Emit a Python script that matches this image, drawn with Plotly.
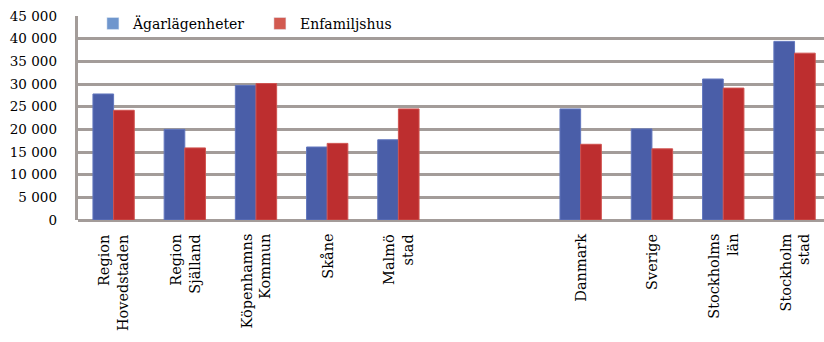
import plotly.graph_objects as go

left_cats = ["Region<br>Hovedstaden", "Region<br>Själland", "Köpenhamns<br>Kommun", "Skåne", "Malmö<br>stad"]
right_cats = ["Danmark", "Sverige", "Stockholms<br>län", "Stockholm<br>stad"]

agar_left = [27800, 20000, 29700, 16100, 17700]
enf_left = [24200, 15900, 30100, 16900, 24500]
agar_right = [24500, 20100, 31100, 39400]
enf_right = [16700, 15700, 29100, 36800]

grid_ticks = [0, 5000, 10000, 15000, 20000, 25000, 30000, 35000, 40000]
label_ticks = grid_ticks + [45000]

BLUE = "#4A5EA8"
RED = "#BD2E2F"
FONT = "DejaVu Serif"

fig = go.Figure()
for cats, ag, en, xa in [(left_cats, agar_left, enf_left, "x"), (right_cats, agar_right, enf_right, "x2")]:
    fig.add_trace(go.Bar(x=cats, y=ag, marker=dict(color=BLUE, line=dict(color="#6277BE", width=1)),
                         xaxis=xa, yaxis="y", showlegend=False, offsetgroup="a"))
    fig.add_trace(go.Bar(x=cats, y=en, marker=dict(color=RED, line=dict(color="#D0524F", width=1)),
                         xaxis=xa, yaxis="y", showlegend=False, offsetgroup="b"))
    for c in cats:
        fig.add_annotation(x=c, xref=xa, y=0, yref="paper", yanchor="top", xanchor="center",
                           text=c, textangle=-90, align="right", showarrow=False, yshift=-12,
                           font=dict(family=FONT, size=14.5, color="#000"))

# legend entries
fig.add_trace(go.Bar(x=[None], y=[None], name="Ägarlägenheter", marker=dict(color="#6F96CD"), showlegend=True))
fig.add_trace(go.Bar(x=[None], y=[None], name="Enfamiljshus", marker=dict(color="#D25A50"), showlegend=True))

split = 467 / 746
axis_common = dict(type="category", showgrid=False, zeroline=False, showline=False, ticks="",
                   showticklabels=False)
fig.update_layout(
    width=824, height=342,
    margin=dict(l=78, r=0, t=16, b=122),
    paper_bgcolor="white", plot_bgcolor="white",
    barmode="group", bargap=0.42, bargroupgap=0,
    font=dict(family=FONT, size=13, color="#000"),
    xaxis=dict(domain=[0, split], range=[-0.5, -0.5 + 467 / 71.2], anchor="y", **axis_common),
    xaxis2=dict(domain=[split, 1], range=[-0.5, -0.5 + 279 / 71.3], anchor="y", **axis_common),
    yaxis=dict(range=[0, 45000], tickvals=grid_ticks, showticklabels=False, showgrid=True,
               gridcolor="#A39C99", gridwidth=2.5, zeroline=True, zerolinecolor="#A39C99",
               zerolinewidth=3, showline=True, linecolor="#A39C99", linewidth=2.5, anchor="x"),
    yaxis2=dict(range=[0, 45000], overlaying="y", side="left", anchor="x", tickvals=label_ticks,
                tickformat=",d", showgrid=False, zeroline=False, showline=False, ticks="",
                ticklabelstandoff=20, tickfont=dict(family=FONT, size=13.5, color="#000")),
    separators=", ",
    legend=dict(orientation="h", x=0.02, y=1.04, xanchor="left", yanchor="top",
                font=dict(family=FONT, size=14, color="#000"), bgcolor="rgba(0,0,0,0)",
                entrywidth=122, itemwidth=30),
    showlegend=True,
)
fig.add_trace(go.Scatter(x=[None], y=[None], yaxis="y2", xaxis="x", showlegend=False, hoverinfo="skip"))

fig.write_html("out.html")
